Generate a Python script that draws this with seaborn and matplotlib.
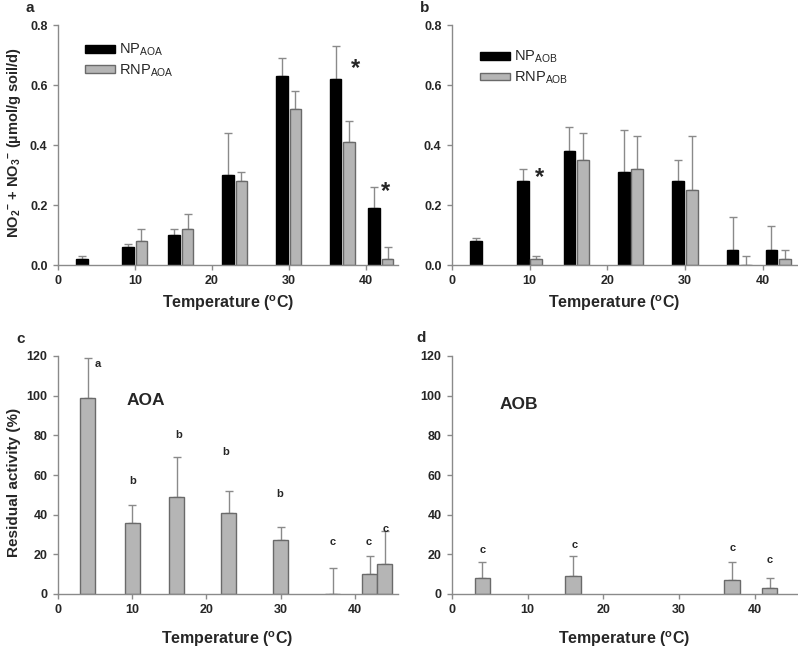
import numpy as np
import pandas as pd
import matplotlib
matplotlib.use("Agg")
import matplotlib.pyplot as plt
from matplotlib.patches import Patch
import seaborn as sns

# ---------------- data ----------------
temps_ab = [4, 10, 16, 23, 30, 37, 42]

np_aoa = [0.02, 0.06, 0.10, 0.30, 0.63, 0.62, 0.19]
np_aoa_err = [0.01, 0.01, 0.02, 0.14, 0.06, 0.11, 0.07]
rnp_aoa = [np.nan, 0.08, 0.12, 0.28, 0.52, 0.41, 0.02]
rnp_aoa_err = [np.nan, 0.04, 0.05, 0.03, 0.06, 0.07, 0.04]

np_aob = [0.08, 0.28, 0.38, 0.31, 0.28, 0.05, 0.05]
np_aob_err = [0.01, 0.04, 0.08, 0.14, 0.07, 0.11, 0.08]
rnp_aob = [np.nan, 0.02, 0.35, 0.32, 0.25, 0.0, 0.02]
rnp_aob_err = [np.nan, 0.01, 0.09, 0.11, 0.18, 0.03, 0.03]

temps_c = [4, 10, 16, 23, 30, 37, 42, 44]
resid_aoa = [99, 36, 49, 41, 27, 0, 10, 15]
resid_aoa_err = [20, 9, 20, 11, 7, 13, 9, 17]
letters_c = ["a", "b", "b", "b", "b", "c", "c", "c"]

temps_d = [4, 16, 37, 42]
resid_aob = [8, 9, 7, 3]
resid_aob_err = [8, 10, 9, 5]
letters_d = ["c", "c", "c", "c"]

x_ticks = [0, 10, 20, 30, 40]
y_ticks_ab = [0.0, 0.2, 0.4, 0.6, 0.8]
y_ticks_cd = [0, 20, 40, 60, 80, 100, 120]

# annotation positions (label placement, not data)
letter_pos_c = [(5.4, 116), (10, 57), (16.3, 80), (22.6, 71.5), (29.9, 50.5),
                (37, 26), (41.9, 26), (44.2, 33)]
letter_pos_d = [(4.1, 22.3), (16.2, 24.8), (37.1, 23.2), (42.0, 17.0)]

# ---------------- style ----------------
sns.set_style("ticks")
plt.rcParams["font.family"] = ["Liberation Sans", "DejaVu Sans"]
plt.rcParams["mathtext.fontset"] = "custom"
plt.rcParams["mathtext.rm"] = "Liberation Sans"
plt.rcParams["mathtext.bf"] = "Liberation Sans:bold"
plt.rcParams["mathtext.it"] = "Liberation Sans:italic"
plt.rcParams["mathtext.sf"] = "Liberation Sans"
plt.rcParams["mathtext.default"] = "bf"

BLACK = "#000000"
GRAY = "#b5b5b5"
GRAY_EDGE = "#6a6a6a"
AX_COL = "#8a8a8a"
ERR_COL = "#8a8a8a"

fig = plt.figure(figsize=(7.98, 6.51), dpi=100)
W, H = 798, 651


def add_axes(left, top, right, bottom):
    return fig.add_axes([left / W, 1 - bottom / H, (right - left) / W, (bottom - top) / H])


ax_a = add_axes(58, 25, 398, 265)
ax_b = add_axes(452, 25, 797, 265)
ax_c = add_axes(58, 356, 398, 594)
ax_d = add_axes(452, 356, 797, 594)


def draw_bars(ax, x, y, err, color, edge, bw):
    df = pd.DataFrame({"x": np.asarray(x, float), "y": np.asarray(y, float),
                       "e": np.asarray(err, float)}).dropna()
    gap = np.diff(np.unique(df["x"])).min()
    sns.barplot(data=df, x="x", y="y", native_scale=True, orient="x",
                width=bw / gap, color=color, edgecolor=edge, linewidth=1,
                saturation=1, errorbar=None, ax=ax, zorder=2)
    ax.errorbar(df["x"], df["y"], yerr=[np.zeros(len(df)), df["e"]], fmt="none",
                ecolor=ERR_COL, elinewidth=1, capsize=2.6, capthick=1, zorder=1.5)


def style_axis(ax, ylim, yticks, yfmt, xlim):
    sns.despine(ax=ax)
    for s in ("left", "bottom"):
        ax.spines[s].set_color(AX_COL)
        ax.spines[s].set_linewidth(1)
        ax.spines[s].set_zorder(3)
    ax.set_xlim(*xlim)
    ax.set_ylim(*ylim)
    ax.set_xticks(x_ticks)
    ax.set_xticklabels([str(t) for t in x_ticks])
    ax.set_yticks(yticks)
    ax.set_yticklabels([yfmt.format(t) for t in yticks])
    ax.tick_params(axis="both", direction="out", length=3.5, width=1, color=AX_COL,
                   labelsize=9, pad=4)
    for lab in ax.get_xticklabels() + ax.get_yticklabels():
        lab.set_fontweight("bold")
    ax.set_facecolor("none")


xlabel = r"Temperature ($^{o}$C)"

# ---------------- panel a ----------------
off_np, off_rnp = -0.9, 0.85
draw_bars(ax_a, [t + off_np for t in temps_ab], np_aoa, np_aoa_err, BLACK, BLACK, 1.5)
draw_bars(ax_a, [t + off_rnp for t in temps_ab], rnp_aoa, rnp_aoa_err, GRAY, GRAY_EDGE, 1.5)
style_axis(ax_a, (0, 0.8), y_ticks_ab, "{:.1f}", (0, 44.2))
ax_a.text(38.7, 0.655, "*", fontsize=17, fontweight="bold", ha="center", va="center")
ax_a.text(42.6, 0.245, "*", fontsize=17, fontweight="bold", ha="center", va="center")
ax_a.legend([Patch(facecolor=BLACK, edgecolor=BLACK), Patch(facecolor=GRAY, edgecolor=GRAY_EDGE)],
            [r"NP$_{\mathregular{AOA}}$", r"RNP$_{\mathregular{AOA}}$"],
            loc="upper left", bbox_to_anchor=(0.079, 0.93), frameon=False, fontsize=10.5,
            handlelength=2.1, handleheight=0.45, handletextpad=0.25, labelspacing=0.3,
            borderpad=0, borderaxespad=0)
ax_a.set_ylabel("NO$_2$$^{-}$ + NO$_3$$^{-}$ (\u00b5mol/g soil/d)",
                fontsize=10.5, fontweight="bold")
ax_a.yaxis.set_label_coords(-0.103, 0.51)
ax_a.set_xlabel(xlabel, fontsize=11.5, fontweight="bold", va="center")
ax_a.xaxis.set_label_coords(0.5, -0.158)

# ---------------- panel b ----------------
draw_bars(ax_b, [t + off_np for t in temps_ab], np_aob, np_aob_err, BLACK, BLACK, 1.5)
draw_bars(ax_b, [t + off_rnp for t in temps_ab], rnp_aob, rnp_aob_err, GRAY, GRAY_EDGE, 1.5)
style_axis(ax_b, (0, 0.8), y_ticks_ab, "{:.1f}", (0, 44.4))
ax_b.text(11.2, 0.29, "*", fontsize=17, fontweight="bold", ha="center", va="center")
ax_b.legend([Patch(facecolor=BLACK, edgecolor=BLACK), Patch(facecolor=GRAY, edgecolor=GRAY_EDGE)],
            [r"NP$_{\mathregular{AOB}}$", r"RNP$_{\mathregular{AOB}}$"],
            loc="upper left", bbox_to_anchor=(0.08, 0.9), frameon=False, fontsize=10.5,
            handlelength=2.1, handleheight=0.45, handletextpad=0.25, labelspacing=0.3,
            borderpad=0, borderaxespad=0)
ax_b.set_ylabel("")
ax_b.set_xlabel(xlabel, fontsize=11.5, fontweight="bold", va="center")
ax_b.xaxis.set_label_coords(0.47, -0.158)

# ---------------- panel c ----------------
draw_bars(ax_c, temps_c, resid_aoa, resid_aoa_err, GRAY, GRAY_EDGE, 2.0)
style_axis(ax_c, (0, 120), y_ticks_cd, "{:d}", (0, 45.8))
for (lx, ly), s in zip(letter_pos_c, letters_c):
    ax_c.text(lx, ly, s, fontsize=8, fontweight="bold", ha="center", va="center")
ax_c.text(9.2, 97.8, "AOA", fontsize=12.5, fontweight="bold", ha="left", va="center")
ax_c.set_ylabel("Residual activity (%)", fontsize=11, fontweight="bold")
ax_c.yaxis.set_label_coords(-0.11, 0.47)
ax_c.set_xlabel(xlabel, fontsize=11.5, fontweight="bold", va="center")
ax_c.xaxis.set_label_coords(0.497, -0.192)

# ---------------- panel d ----------------
draw_bars(ax_d, temps_d, resid_aob, resid_aob_err, GRAY, GRAY_EDGE, 2.0)
style_axis(ax_d, (0, 120), y_ticks_cd, "{:d}", (0, 45.6))
for (lx, ly), s in zip(letter_pos_d, letters_d):
    ax_d.text(lx, ly, s, fontsize=8, fontweight="bold", ha="center", va="center")
ax_d.text(6.3, 95.3, "AOB", fontsize=12.5, fontweight="bold", ha="left", va="center")
ax_d.set_ylabel("")
ax_d.set_xlabel(xlabel, fontsize=11.5, fontweight="bold", va="center")
ax_d.xaxis.set_label_coords(0.5, -0.192)

# panel letters
for (px, py), s in zip([(30, 8), (425, 8), (21, 339), (421, 338)], ["a", "b", "c", "d"]):
    fig.text(px / W, 1 - py / H, s, fontsize=11, fontweight="bold", ha="center", va="center")

fig.savefig("out.png", dpi=100)
